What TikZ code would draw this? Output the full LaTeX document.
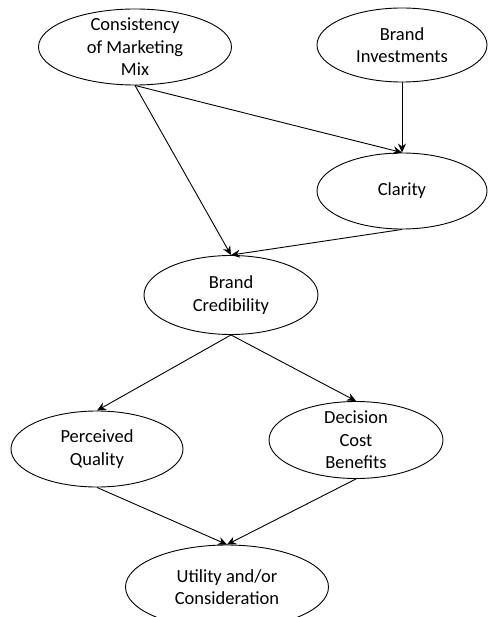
\documentclass[tikz,border=0pt]{standalone}
\usepackage{fontspec}
\setmainfont{Carlito}
\usetikzlibrary{shapes.geometric,arrows.meta}
\begin{document}
\begin{tikzpicture}[x=1pt,y=-1pt,
  oval/.style={ellipse, draw, line width=0.9pt, inner sep=0pt, fill=white},
  txt/.style={font=\fontsize{18.5}{22.5}\selectfont, align=center, inner sep=0pt},
  conn/.style={-{Stealth[length=9pt,width=8pt,inset=3pt]}, line width=0.9pt}]
\useasboundingbox (0,0) rectangle (487,617);
\node[oval, minimum width=193, minimum height=76, label={[txt]center:Consistency\\of Marketing\\Mix}] (cmm) at (135,47) {};
\node[oval, minimum width=170, minimum height=74, label={[txt]center:Brand\\Investments}] (bi) at (402,45) {};
\node[oval, minimum width=170, minimum height=76, label={[txt]center:Clarity}] (cl) at (402,191) {};
\node[oval, minimum width=174, minimum height=79, label={[txt]center:Brand\\Credibility}] (bc) at (231,295) {};
\node[oval, minimum width=172, minimum height=76, label={[txt]center:Perceived\\Quality}] (pq) at (97,449) {};
\node[oval, minimum width=174, minimum height=77, label={[txt]center:Decision\\Cost\\Benefits}] (dcb) at (356,440) {};
\node[oval, minimum width=203, minimum height=84, label={[txt]center:Utility and/or\\Consideration}] (uc) at (227,587) {};
\draw[conn] (cmm.south) -- (cl.north);
\draw[conn] (cmm.south) -- (bc.north);
\draw[conn] (bi.south) -- (cl.north);
\draw[conn] (cl.south) -- (bc.north);
\draw[conn] (bc.south) -- (pq.north);
\draw[conn] (bc.south) -- (dcb.north);
\draw[conn] (pq.south) -- (uc.north);
\draw[conn] (dcb.south) -- (uc.north);
\end{tikzpicture}
\end{document}
